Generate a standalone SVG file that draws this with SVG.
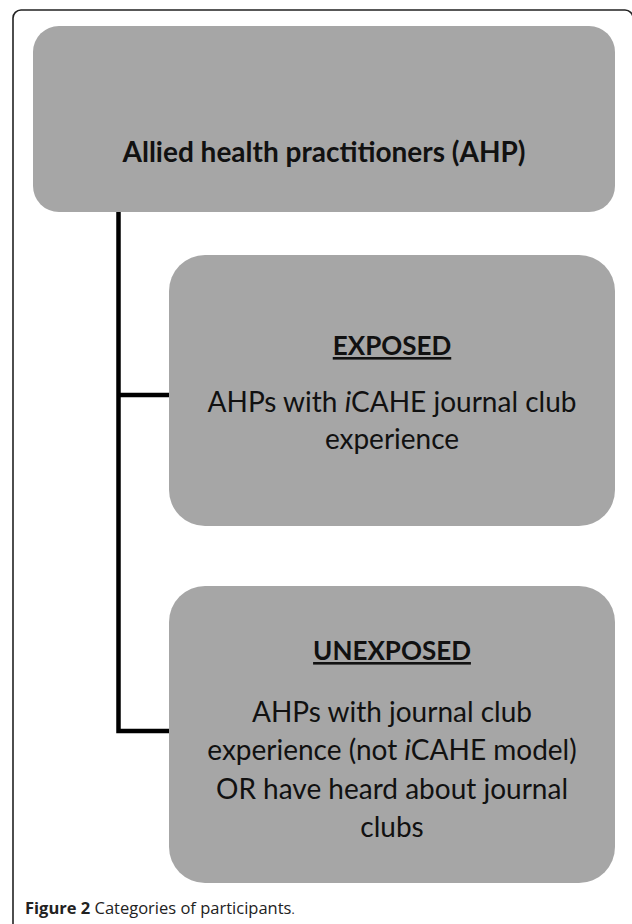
<svg xmlns="http://www.w3.org/2000/svg" width="632" height="924" viewBox="0 0 632 924">
<style>
.box{fill:#a6a6a6}
.t{font-family:Lato,"Open Sans","Liberation Sans",sans-serif;font-size:28px;fill:#111;text-anchor:middle}
.h{font-weight:bold;font-size:26px}
.b{font-weight:bold}
.conn{stroke:#000;stroke-width:4.5;fill:none}
.cap{font-family:"Open Sans","Liberation Sans",sans-serif;font-size:16.5px;fill:#222}
</style>
<rect x="13" y="10" width="620" height="960" rx="8" fill="none" stroke="#222" stroke-width="1.6"/>
<g id="connectors">
<path class="conn" d="M118.5 212 V731 H169"/>
<path class="conn" d="M118.5 395 H169"/>
</g>
<g id="ahp">
<rect class="box" x="33" y="26" width="582" height="186" rx="26"/>
<text class="t b" x="324" y="162">Allied health practitioners (AHP)</text>
</g>
<g id="exposed">
<rect class="box" x="169" y="255" width="446" height="271" rx="36"/>
<text class="t h" x="392" y="355" text-decoration="underline">EXPOSED</text>
<text class="t" x="392" y="412">AHPs with <tspan font-style="italic">i</tspan>CAHE journal club</text>
<text class="t" x="392" y="449">experience</text>
</g>
<g id="unexposed">
<rect class="box" x="169" y="586" width="446" height="297" rx="36"/>
<text class="t h" x="392" y="660" text-decoration="underline">UNEXPOSED</text>
<text class="t" x="392" y="722">AHPs with journal club</text>
<text class="t" x="392" y="760">experience (not <tspan font-style="italic">i</tspan>CAHE model)</text>
<text class="t" x="392" y="799">OR have heard about journal</text>
<text class="t" x="392" y="837">clubs</text>
</g>
<text class="cap" x="25" y="914"><tspan font-weight="bold">Figure 2</tspan> Categories of participants<tspan font-size="12">.</tspan></text>
</svg>
